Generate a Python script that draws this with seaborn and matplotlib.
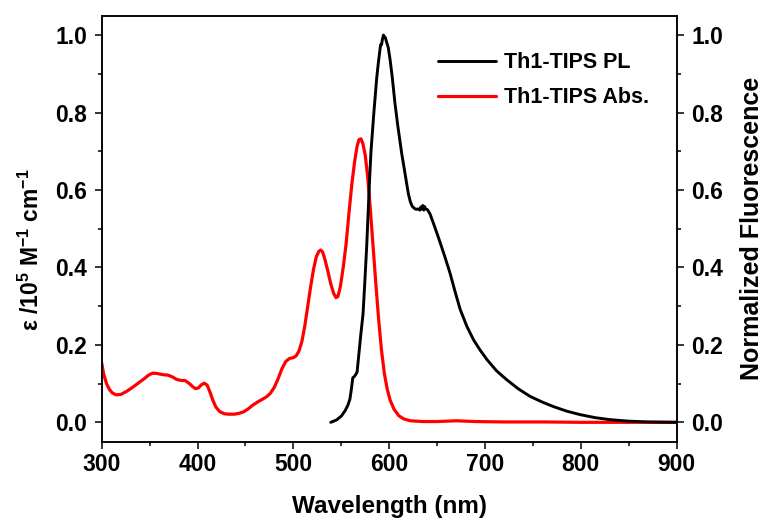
import numpy as np
import pandas as pd
import matplotlib
matplotlib.use('Agg')
import matplotlib.pyplot as plt
import seaborn as sns

# ------------------------------------------------------- #
#                    DATOS           #
# ------------------------------------------------------- #
abs_nm = [300, 302, 305, 308, 311, 315, 320, 326, 332, 338, 344, 349, 353,
          358, 364, 369, 374, 378, 383, 387, 391, 395, 398, 401, 404, 407,
          410, 413, 416, 419, 423, 428, 433, 438, 443, 448, 453, 458, 463,
          468, 472, 476, 480, 484, 488, 492, 496, 500, 503, 506, 509, 512,
          515, 518, 521, 524, 526.5, 528.5, 530.5, 533, 536, 539, 542,
          544.5, 546.5, 549, 552, 555, 558, 561, 564, 566.5, 568.5, 570.5,
          572.5, 575, 577.5, 580, 583, 586, 589, 592, 595, 598, 601, 605,
          610, 615, 622, 635, 650, 670, 690, 720, 760, 800, 850, 900]
abs_eps = [0.153, 0.125, 0.100, 0.085, 0.076, 0.071, 0.072, 0.080, 0.090, 0.101,
           0.112, 0.122, 0.127, 0.126, 0.123, 0.122, 0.117, 0.111, 0.108, 0.108,
           0.101, 0.092, 0.087, 0.089, 0.097, 0.101, 0.096, 0.078, 0.057, 0.040,
           0.028, 0.022, 0.021, 0.021, 0.023, 0.027, 0.035, 0.045, 0.053, 0.060,
           0.066, 0.075, 0.090, 0.112, 0.138, 0.157, 0.165, 0.167, 0.172, 0.185,
           0.210, 0.250, 0.300, 0.350, 0.395, 0.428, 0.441, 0.445, 0.440, 0.420,
           0.390, 0.358, 0.333, 0.322, 0.325, 0.350, 0.400, 0.460, 0.540, 0.615,
           0.675, 0.713, 0.730, 0.732, 0.720, 0.690, 0.635, 0.560, 0.460, 0.360,
           0.265, 0.185, 0.125, 0.085, 0.057, 0.034, 0.017, 0.009, 0.004, 0.002,
           0.002, 0.004, 0.002, 0.001, 0.001, 0.000, 0.000, 0.000]

pl_nm = [539, 545, 550, 554, 557, 559, 560.5, 562, 563.5, 565, 566.5, 568.5,
         570.5, 572.7, 574.5, 576.5, 578, 579.5, 581, 582.5, 584, 585.5,
         587, 588.5, 590, 591, 592, 593, 594, 595, 596, 597.5, 599, 601,
         603, 606, 609, 613, 617, 620, 622, 624, 626, 628, 630, 632, 633,
         634, 635, 636, 637, 638, 640, 642.6, 646, 650, 654, 658, 663.5,
         669, 674, 681, 688, 695, 702, 712, 722.6, 735, 747, 760, 771, 785,
         799, 815, 830, 850, 870, 900]
pl_int = [0.000, 0.006, 0.016, 0.030, 0.045, 0.060, 0.085, 0.115, 0.118, 0.123,
          0.130, 0.180, 0.230, 0.280, 0.360, 0.454, 0.540, 0.626, 0.700, 0.750,
          0.800, 0.845, 0.890, 0.925, 0.955, 0.975, 0.975, 0.990, 1.000, 0.996,
          0.993, 0.980, 0.968, 0.935, 0.895, 0.824, 0.765, 0.695, 0.635, 0.590,
          0.570, 0.558, 0.553, 0.550, 0.551, 0.548, 0.556, 0.551, 0.560, 0.548,
          0.557, 0.551, 0.549, 0.538, 0.515, 0.487, 0.458, 0.428, 0.385, 0.335,
          0.292, 0.248, 0.213, 0.186, 0.162, 0.133, 0.110, 0.086, 0.067, 0.052,
          0.041, 0.029, 0.020, 0.012, 0.007, 0.003, 0.001, 0.000]

df_abs = pd.DataFrame({'nm': abs_nm, 'val': abs_eps})
df_pl = pd.DataFrame({'nm': pl_nm, 'val': pl_int})

# ------------------------------------------------------- #
#                         ESTILO                          #
# ------------------------------------------------------- #
sns.set_style('ticks')
plt.rcParams['font.family'] = ['Liberation Sans', 'DejaVu Sans']
plt.rcParams['font.weight'] = 'bold'
plt.rcParams['axes.labelweight'] = 'bold'
plt.rcParams['text.color'] = 'black'
plt.rcParams['axes.labelcolor'] = 'black'
plt.rcParams['axes.edgecolor'] = 'black'
plt.rcParams['xtick.color'] = 'black'
plt.rcParams['ytick.color'] = 'black'
plt.rcParams['mathtext.fontset'] = 'custom'
plt.rcParams['mathtext.rm'] = 'Liberation Sans:bold'
plt.rcParams['mathtext.bf'] = 'Liberation Sans:bold'
plt.rcParams['mathtext.default'] = 'bf'

fig = plt.figure(figsize=(7.63, 5.2), dpi=100)
ax = fig.add_axes([0.1333, 0.1506, 0.7536, 0.8192])
ax2 = ax.twinx()

sns.lineplot(data=df_pl, x='nm', y='val', ax=ax2, color='black', lw=2.1,
             label='Th1-TIPS PL', legend=False)
sns.lineplot(data=df_abs, x='nm', y='val', ax=ax, color='#ff0000', lw=2.3,
             label='Th1-TIPS Abs.', legend=False)

for a in (ax, ax2):
    a.set_xlim(300, 900)
    a.set_ylim(-0.05, 1.05)
    a.set_yticks(np.arange(0, 1.01, 0.2))
    a.set_yticks(np.arange(0.1, 1.0, 0.2), minor=True)
    a.yaxis.set_major_formatter(matplotlib.ticker.FormatStrFormatter('%.1f'))
    a.tick_params(which='major', length=5, width=1.1, labelsize=16.5, direction='out')
    a.tick_params(which='minor', length=3, width=1.1, direction='out')
    a.tick_params(axis='y', which='major', pad=5.5)
    for s in a.spines.values():
        s.set_linewidth(1.1)

ax.set_xticks(np.arange(300, 901, 100))
ax.set_xticks(np.arange(350, 900, 100), minor=True)

ax.set_xlabel('Wavelength (nm)', fontsize=17.5, labelpad=13)
ax.set_ylabel(r'ε /10$^{5}$ M$^{-1}$ cm$^{-1}$', fontsize=16.5)
ax.yaxis.set_label_coords(-0.1, 0.45)
ax2.set_ylabel('Normalized Fluorescence', fontsize=18, labelpad=12)

h2, l2 = ax2.get_legend_handles_labels()
h1, l1 = ax.get_legend_handles_labels()
ax2.legend(h2 + h1, l2 + l1, loc='upper right', frameon=False, fontsize=15.5,
           handlelength=2.65, handletextpad=0.4, labelspacing=0.65,
           bbox_to_anchor=(0.986, 0.96))

plt.savefig('out.png', dpi=100)
